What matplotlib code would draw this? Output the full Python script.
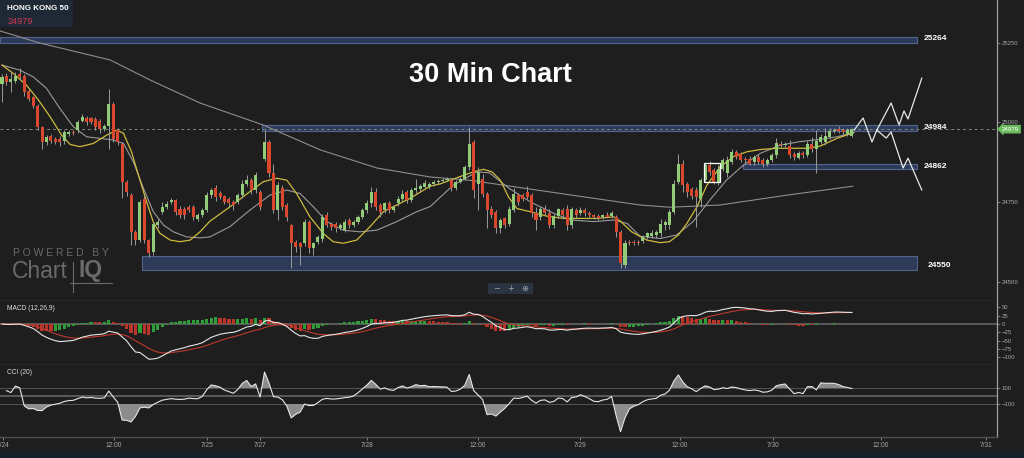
import numpy as np
import pandas as pd
import matplotlib
matplotlib.use("Agg")
import matplotlib.pyplot as plt
from matplotlib.patches import Rectangle
from matplotlib.lines import Line2D

plt.rcParams['font.family'] = ['Liberation Sans', 'DejaVu Sans']

# 30 minute candles
opens = [25120, 25147, 25126, 25131, 25152, 25147, 25100, 25079, 25053, 24985, 24938, 24959,
         24948, 24948, 24943, 24964, 24971, 24975, 25006, 25013, 25013, 25011, 25006, 24978,
         24990, 25058, 24975, 24933, 24813, 24771, 24657, 24631, 24761, 24631, 24594, 24678,
         24719, 24735, 24751, 24756, 24730, 24730, 24735, 24735, 24698, 24709, 24724, 24771,
         24794,
         24779, 24769, 24761, 24751, 24751, 24772, 24808, 24819, 24787, 24782, 24886, 24939,
         24840, 24725, 24793, 24740, 24678, 24626, 24621, 24621, 24688, 24605, 24626, 24636,
         24709, 24683, 24683, 24668, 24663, 24694, 24678, 24688, 24704, 24725, 24746, 24782,
         24740, 24725, 24746, 24725, 24746, 24761, 24782, 24756, 24787, 24790, 24798,
         24798, 24806, 24814, 24817, 24821, 24819, 24793, 24814, 24824, 24860, 24939, 24808,
         24824, 24777, 24730, 24720, 24668, 24699, 24683, 24725, 24772, 24772, 24782, 24772,
         24715, 24704, 24730, 24715, 24678, 24706, 24725, 24730, 24678, 24725, 24715, 24725,
         24717, 24709, 24706, 24702, 24709, 24706, 24704, 24657, 24553, 24626, 24626, 24626,
         24628, 24642, 24644, 24647, 24652, 24678, 24678, 24720, 24813, 24871, 24806, 24790,
         24787, 24761, 24819, 24866, 24850, 24814, 24855, 24840, 24876, 24907, 24902, 24886,
         24886, 24876, 24892, 24883, 24871, 24881, 24897, 24933, 24928, 24925, 24902, 24890,
         24904, 24897, 24933, 24918, 24938, 24938, 24954, 24973, 24980, 24977, 24965, 24959]
closes = [25141, 25126, 25136, 25147, 25141, 25094, 25074, 25053, 24985, 24938, 24954, 24943,
          24938, 24940, 24969, 24971, 24967, 25001, 25016, 25001, 25001, 24985, 24980, 24990,
          25058, 24948, 24938, 24813, 24782, 24657, 24631, 24751, 24631, 24589, 24683, 24688,
          24735, 24745, 24756, 24719, 24709, 24709, 24724, 24704, 24709, 24724, 24771, 24787,
          24765,
          24767, 24751, 24746, 24741, 24772, 24808, 24819, 24787, 24834, 24735, 24939, 24840,
          24725, 24803, 24735, 24704, 24621, 24610, 24610, 24688, 24605, 24621, 24642, 24704,
          24678, 24673, 24668, 24678, 24688, 24678, 24688, 24704, 24725, 24746, 24782, 24735,
          24720, 24746, 24725, 24735, 24761, 24777, 24756, 24787, 24793, 24800, 24810,
          24808, 24814, 24817, 24821, 24824, 24793, 24814, 24824, 24860, 24933, 24787, 24845,
          24777, 24725, 24709, 24668, 24694, 24678, 24730, 24775, 24751, 24761, 24767, 24715,
          24694, 24730, 24715, 24678, 24706, 24727, 24709, 24678, 24730, 24709, 24725, 24715,
          24709, 24702, 24699, 24709, 24704, 24715, 24657, 24558, 24621, 24621, 24621, 24621,
          24642, 24652, 24654, 24657, 24683, 24688, 24720, 24808, 24871, 24803, 24782, 24769,
          24767, 24819, 24866, 24845, 24814, 24855, 24881, 24881, 24907, 24892, 24881, 24881,
          24871, 24892, 24876, 24871, 24881, 24897, 24935, 24928, 24933, 24897, 24892, 24904,
          24897, 24933, 24918, 24942, 24954, 24959, 24973, 24977, 24973, 24970, 24977, 24979]
upper_wick = [10, 8, 25, 12, 20, 6, 5, 5, 6, 5, 8, 6,
              5, 8, 6, 5, 6, 8, 10, 6, 5, 6, 5, 6,
              47, 5, 8, 5, 6, 8, 5, 6, 10, 5, 6, 10,
              15, 8, 6, 5, 8, 6, 6, 5, 6, 8, 10, 8,
              10, 6, 5, 5, 6, 6, 10, 15, 8, 12, 6, 36,
              5, 31, 10, 12, 6, 5, 6, 5, 8, 6, 5, 6,
              8, 10, 6, 5, 6, 8, 5, 6, 5, 8, 10, 15,
              12, 6, 5, 8, 6, 8, 10, 6, 8, 30, 8, 8,
              6, 5, 5, 6, 5, 6, 5, 6, 8, 52, 6, 15,
              15, 6, 8, 6, 5, 6, 8, 20, 8, 6, 20, 6,
              21, 6, 10, 15, 8, 6, 8, 10, 6, 8, 10, 6,
              5, 5, 6, 5, 10, 8, 6, 6, 10, 5, 6, 5,
              6, 5, 8, 6, 15, 6, 10, 10, 30, 10, 8, 6,
              10, 6, 8, 12, 6, 10, 8, 15, 10, 8, 6, 5,
              8, 6, 10, 6, 8, 6, 15, 10, 6, 20, 6, 8,
              6, 10, 20, 33, 10, 25, 8, 5, 10, 6, 5, 4]
lower_wick = [57, 10, 30, 6, 8, 10, 6, 8, 10, 20, 10, 8,
              6, 15, 10, 6, 5, 8, 6, 8, 6, 10, 12, 6,
              72, 10, 8, 50, 12, 40, 15, 6, 10, 10, 10, 8,
              6, 6, 8, 10, 8, 12, 6, 10, 8, 6, 6, 8,
              10, 6, 8, 10, 15, 6, 8, 6, 10, 8, 10, 8,
              10, 10, 31, 10, 12, 78, 15, 57, 10, 15, 20, 8,
              10, 6, 10, 12, 6, 8, 10, 6, 8, 6, 8, 10,
              10, 15, 8, 10, 6, 8, 6, 10, 6, 8, 6, 5,
              6, 5, 6, 5, 6, 8, 6, 5, 6, 10, 25, 83,
              10, 57, 10, 15, 16, 10, 8, 6, 10, 6, 8, 10,
              31, 10, 6, 10, 8, 6, 10, 15, 8, 10, 6, 8,
              5, 6, 5, 6, 5, 6, 15, 15, 10, 6, 5, 6,
              6, 8, 6, 8, 10, 15, 12, 8, 6, 20, 15, 10,
              94, 25, 6, 10, 8, 10, 8, 10, 6, 8, 6, 10,
              6, 8, 6, 10, 8, 6, 8, 6, 6, 8, 10, 6,
              8, 6, 10, 78, 6, 8, 6, 5, 6, 8, 6, 5]

# moving average lines as drawn (candle index, price)
yellow_idx = [0, 2.5, 5.5, 8.2, 10.8, 13.4, 15.3, 17.5, 20.5, 23.5, 25.8, 27.3, 29.1, 31, 32.5,
              34, 35.5, 37.8, 40, 42.3, 44.5, 46.7, 51.2, 55.7, 58.7, 61.7, 64, 66.2, 69.2,
              72.2, 74.4, 76.7, 79.7, 82.7, 85.7, 88.7, 91.7, 96.2, 98.4, 102.9, 105.9, 108.2,
              110.1, 112, 113.8, 115.7, 118.7, 122.5, 126.2, 130, 133.7, 137.5, 139, 141.5,
              144.9, 147.9, 150, 152, 153.9, 156.2, 158.4, 161.4, 164.4, 167.4, 170.4, 174.2,
              177.9, 180.9, 183.9, 187.6, 191.4]
yellow_val = [25180, 25154, 25117, 25070, 25018, 24960, 24931, 24924, 24934, 24960, 24976, 24966,
              24908, 24819, 24751, 24688, 24652, 24631, 24626, 24631, 24657, 24690, 24735, 24783,
              24814, 24825, 24819, 24777, 24704, 24652, 24626, 24621, 24631, 24673, 24720, 24741,
              24762, 24800, 24807, 24830, 24845, 24853, 24845, 24819, 24767, 24730, 24720, 24706,
              24699, 24699, 24699, 24704, 24690, 24657, 24631, 24623, 24626, 24647, 24683, 24736,
              24803, 24861, 24893, 24908, 24915, 24919, 24919, 24919, 24926, 24950, 24968]
gray_idx = [0, 4, 7, 10, 13, 16, 19, 22, 25, 27.3, 29.5, 31.8, 34, 36.3, 38.5, 41.5, 44.5, 46.7,
            51.2, 55.7, 60.2, 64, 67, 70, 73, 76.7, 80.4, 84.2, 88.7, 93.2, 96.2, 101.4, 106.7,
            109.5, 114, 118.7, 124, 127.7, 133, 137.5, 140.5, 143.4, 147.9, 151.6, 155.3, 159.1,
            162.8, 166.6, 170.4, 174.9, 179.4, 183.9, 187.6, 191.4]
gray_val = [25180, 25164, 25143, 25107, 25044, 24987, 24955, 24950, 24945, 24934, 24877, 24793,
            24720, 24678, 24657, 24641, 24638, 24641, 24673, 24725, 24772, 24788, 24777, 24735,
            24689, 24662, 24657, 24662, 24689, 24720, 24736, 24803, 24845, 24842, 24793, 24751,
            24715, 24694, 24689, 24694, 24683, 24643, 24636, 24647, 24689, 24757, 24819, 24866,
            24903, 24929, 24940, 24947, 24955, 24968]
long_idx = [-0.45, 8.5, 24.3, 33.3, 44.5, 58.7, 71.5, 84.3, 96.2, 105, 118.7, 143.4, 150.1,
            161.3, 176.4, 191.2]
long_val = [25287, 25249, 25196, 25133, 25061, 24992, 24914, 24857, 24829, 24819, 24791, 24741,
            24734, 24741, 24772, 24800]

# drawn support / resistance levels
level_vals = [25264, 24984, 24862, 24550]
level_lo = [25249, 24973, 24855, 24537]
level_hi = [25268, 24992, 24869, 24580]
level_start = [-0.45, 58.4, 166.5, 31.5]
level_end = 205.6

# projected zigzag paths drawn on the right
proj_a_idx = [191.5, 193.5, 195.5, 196.6, 198.7, 199.8, 202.5, 203.6, 206.7]
proj_a_val = [24976, 25014, 24939, 24976, 24951, 24970, 24857, 24888, 24788]
proj_b_idx = [196.6, 199.8, 201.6, 202.7, 203.6, 206.7]
proj_b_val = [24976, 25061, 24992, 25036, 25011, 25139]

tick_idx = [0.2, 25.2, 46.1, 58.0, 82.0, 107.0, 129.9, 152.4, 173.3, 197.5, 221.1]
tick_labels = ['7/24', '12:00', '7/25', '7/27', '7/28', '12:00', '7/29', '12:00', '7/30', '12:00', '7/31']

last_price = closes[-1]

BG = '#1e1e1e'
GREEN = '#93cc78'
RED = '#d9482c'
SEP = '#4d4d4d'
TXT = '#a8a8a8'

fig = plt.figure(figsize=(10.24, 4.58), dpi=100, facecolor=BG)
H = 458.0


def box(top, bottom, right=997):
    return [0, 1 - bottom / H, right / 1024, (bottom - top) / H]


ax = fig.add_axes(box(0, 301))
ax_m = fig.add_axes(box(301, 365), sharex=ax)
ax_c = fig.add_axes(box(365, 437), sharex=ax)

for a in (ax, ax_m, ax_c):
    a.set_facecolor(BG)
    a.spines['top'].set_visible(False)
    a.spines['left'].set_visible(False)
    a.spines['right'].set_color('#a0a0a0')
    a.spines['right'].set_linewidth(0.9)
    a.spines['bottom'].set_color(SEP)
    a.spines['bottom'].set_linewidth(1.0)
    a.yaxis.tick_right()
    a.tick_params(axis='y', labelsize=4.3, colors=TXT, length=2, width=0.5, pad=1.5)
    a.tick_params(axis='x', bottom=False, labelbottom=False)

# ---- main price panel ----
idx = np.arange(len(closes))
o = np.array(opens, dtype=float)
c = np.array(closes, dtype=float)
hi = np.maximum(o, c) + np.array(upper_wick)
lo = np.minimum(o, c) - np.array(lower_wick)
up = c >= o

for k in range(len(level_vals)):
    ax.add_patch(Rectangle((level_start[k], level_lo[k]), level_end - level_start[k],
                           level_hi[k] - level_lo[k], facecolor='#2d3a58', edgecolor='#53658e',
                           lw=0.8, zorder=2))
    xl = 208.1 if k == 3 else 207.2
    ax.text(xl, level_vals[k], str(level_vals[k]), color='white', fontsize=6,
            fontweight='bold', va='center', ha='left', zorder=6)

ax.axhline(last_price, color='#7d8a72', ls=(0, (3, 3)), lw=0.7, zorder=2.5)

ax.plot(long_idx, long_val, color='#8e8e8e', lw=0.8, zorder=3)
ax.plot(gray_idx, gray_val, color='#9a9a9a', lw=0.8, zorder=3)
ax.plot(yellow_idx, yellow_val, color='#cdbb3c', lw=0.9, zorder=3)

ax.vlines(idx, lo, hi, color='#9a9a9a', lw=0.7, zorder=4)
body_h = np.maximum(np.abs(c - o), 1.8)
ax.bar(idx, body_h, bottom=np.minimum(o, c), width=0.68,
       color=np.where(up, GREEN, RED), linewidth=0, zorder=5)

ax.add_patch(Rectangle((157.8, 24812), 3.5, 61, fill=False, edgecolor='white', lw=0.9, zorder=6))
ax.plot(proj_a_idx, proj_a_val, color='#e8e8e8', lw=0.9, zorder=6)
ax.plot(proj_b_idx, proj_b_val, color='#e8e8e8', lw=0.9, zorder=6)

ax.set_xlim(-0.45, 223.6)
ax.set_ylim(24440, 25384)
ax.set_yticks([24500, 24750, 25000, 25250])

ax.annotate(str(last_price), xy=(1.0, last_price), xycoords=ax.get_yaxis_transform(),
            xytext=(3.5, 0), textcoords='offset points', fontsize=4.4, color='white',
            va='center', ha='left', annotation_clip=False,
            bbox=dict(boxstyle='larrow,pad=0.3', fc='#6dbb5f', ec='none'))

# ---- MACD panel ----
cs = pd.Series(c)
macd = cs.ewm(span=12, adjust=False).mean() - cs.ewm(span=26, adjust=False).mean()
signal = macd.ewm(span=9, adjust=False).mean()
hist = macd - signal
rising = hist.diff().fillna(0) >= 0
ax_m.axhline(0, color='#5a5a5a', lw=1.4, zorder=1)
ax_m.bar(idx, hist, width=0.7, color=np.where(rising, '#2f9e3a', '#b8352a'), linewidth=0, zorder=2)
ax_m.plot(idx, signal, color='#c0392b', lw=0.8, zorder=3)
ax_m.plot(idx, macd, color='#e6e6e6', lw=0.8, zorder=4)
ax_m.set_ylim(-123, 69)
ax_m.set_yticks([50, 25, 0, -25, -50, -75, -100])
ax_m.text(0.007, 0.88, 'MACD (12,26,9)', transform=ax_m.transAxes, fontsize=4.8,
          color='#dddddd', va='center')

# ---- CCI panel ----
tp = pd.Series((hi + lo + c) / 3.0)
sma = tp.rolling(20, min_periods=2).mean()
mad = tp.rolling(20, min_periods=2).apply(lambda w: np.mean(np.abs(w - w.mean())), raw=True)
cci = ((tp - sma) / (0.015 * mad)).to_numpy()
ax_c.axhline(0, color='#5a5a5a', lw=1.4, zorder=1)
ax_c.axhline(100, color='#555555', lw=0.7, zorder=1)
ax_c.axhline(-100, color='#555555', lw=0.7, zorder=1)
ax_c.fill_between(idx, cci, 100, where=cci > 100, interpolate=True, color='#8c8c8c', lw=0, zorder=2)
ax_c.fill_between(idx, cci, -100, where=cci < -100, interpolate=True, color='#8c8c8c', lw=0, zorder=2)
ax_c.plot(idx, cci, color='#e6e6e6', lw=0.8, zorder=3)
ax_c.set_ylim(-512, 387)
ax_c.set_yticks([100, -100])
ax_c.text(0.007, 0.9, 'CCI (20)', transform=ax_c.transAxes, fontsize=4.8,
          color='#dddddd', va='center')

ax_c.set_xticks(tick_idx)
ax_c.set_xticklabels(tick_labels)
ax_c.tick_params(axis='x', bottom=True, labelbottom=True, labelsize=4.8, colors=TXT,
                 length=2.5, width=0.5, pad=0.8)

# ---- decorations ----
fig.patches.append(Rectangle((0, 0), 1, 6 / H, transform=fig.transFigure,
                             facecolor='#17212b', edgecolor='none', zorder=0))
fig.patches.append(Rectangle((0, 1 - 27 / H), 73 / 1024, 27 / H, transform=fig.transFigure,
                             facecolor='#1f2935', edgecolor='none', zorder=5))
fig.text(7 / 1024, 1 - 9 / H, 'HONG KONG 50', color='white', fontsize=5.8, fontweight='bold',
         va='center', ha='left', zorder=6)
fig.text(7 / 1024, 1 - 21 / H, str(last_price), color='#d63a5a', fontsize=6.6,
         va='center', ha='left', zorder=6)

fig.text(490 / 1024, 1 - 75 / H, '30 Min Chart', color='white', fontsize=19.5,
         fontweight='bold', ha='center', va='center')

fig.text(13 / 1024, 1 - 253 / H, 'P O W E R E D   B Y', color='#6a6a6a', fontsize=7.5,
         ha='left', va='center')
fig.text(12 / 1024, 1 - 271 / H, 'Chart', color='#6a6a6a', fontsize=16.5, ha='left', va='center')
fig.text(79 / 1024, 1 - 271 / H, 'IQ', color='#6a6a6a', fontsize=16.5, fontweight='bold',
         ha='left', va='center')
fig.lines.append(Line2D([73 / 1024, 73 / 1024], [1 - 262 / H, 1 - 292 / H],
                        transform=fig.transFigure, color='#6a6a6a', lw=0.8))
fig.lines.append(Line2D([70 / 1024, 112 / 1024], [1 - 283 / H, 1 - 283 / H],
                        transform=fig.transFigure, color='#6a6a6a', lw=0.8))

fig.patches.append(Rectangle((488 / 1024, 1 - 294 / H), 45 / 1024, 11 / H,
                             transform=fig.transFigure, facecolor='#2a3440',
                             edgecolor='none', zorder=5))
for xp, s in [(497, '\u2212'), (511, '+'), (525, '\u2295')]:
    fig.text(xp / 1024, 1 - 288.5 / H, s, color='#9aa3ad', fontsize=6, ha='center',
             va='center', zorder=6, family=['DejaVu Sans'])

fig.savefig('out.png', dpi=100, facecolor=BG)
